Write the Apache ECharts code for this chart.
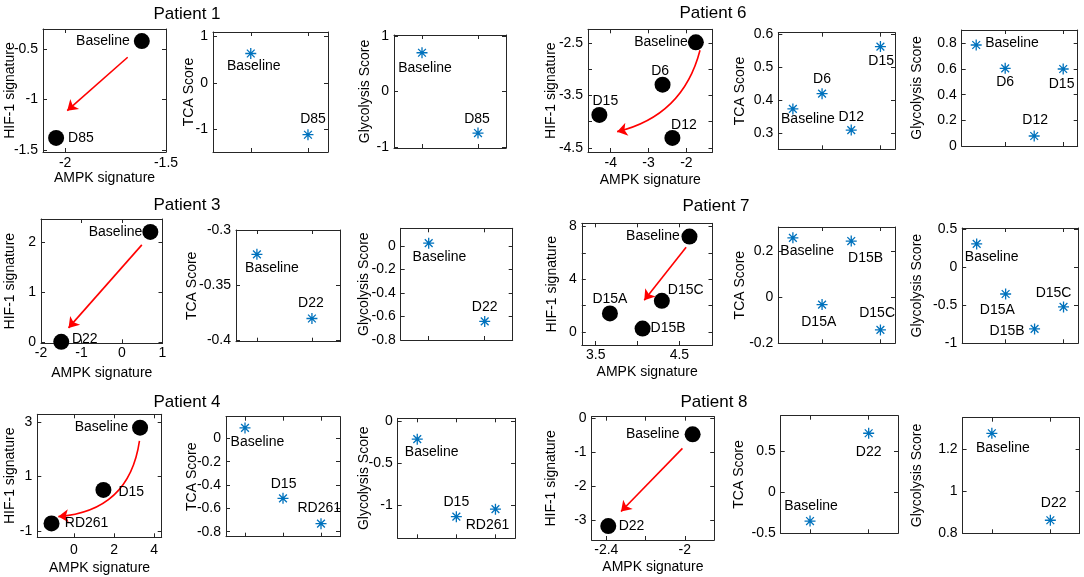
<!DOCTYPE html>
<html><head><meta charset="utf-8">
<script src="https://cdn.jsdelivr.net/npm/echarts@6/dist/echarts.min.js"></script>
<style>html,body{margin:0;padding:0;background:#fff}#c{width:1084px;height:577px}</style>
</head><body><div id="c"></div>
<script>
// ================= DATA =================
// Patient 1
const p1_days = ['Baseline', 'D85'];
const p1_ampk = [-1.62, -2.045];
const p1_hif = [-0.42, -1.38];
const p1_tca = [0.63, -1.11];
const p1_gly = [0.70, -0.75];
const p1_arrow = [[-1.69, -0.58], [-1.99, -1.11]];
const p1_ampk_ticks = [-2, -1.5], p1_ampk_labels = [-2, -1.5];
const p1_hif_ticks = [-1.5, -1, -0.5], p1_hif_labels = [-1.5, -1, -0.5];
const p1_tca_ticks = [-1, 0, 1];
const p1_gly_ticks = [-1, 0, 1];
const p1_idx_ticks = [1, 2];
// Patient 3
const p3_days = ['Baseline', 'D22'];
const p3_ampk = [0.70, -1.50];
const p3_hif = [2.21, 0.0];
const p3_tca = [-0.322, -0.380];
const p3_gly = [0.023, -0.642];
const p3_arrow = [[0.49, 1.95], [-1.32, 0.28]];
const p3_ampk_ticks = [-2, -1, 0, 1], p3_ampk_labels = [-2, -1, 0, 1];
const p3_hif_ticks = [0, 1, 2], p3_hif_labels = [0, 1, 2];
const p3_tca_ticks = [-0.4, -0.35, -0.3];
const p3_gly_ticks = [-0.8, -0.6, -0.4, -0.2, 0];
const p3_idx_ticks = [1, 2];
// Patient 4
const p4_days = ['Baseline', 'D15', 'RD261'];
const p4_ampk = [3.30, 1.47, -1.12];
const p4_hif = [2.80, 0.51, -0.72];
const p4_tca = [0.09, -0.514, -0.731];
const p4_gly = [-0.21, -1.14, -1.05];
const p4_arrow = [[3.27, 2.31], [-0.78, -0.47]];
const p4_ampk_ticks = [0, 2, 4], p4_ampk_labels = [0, 2, 4];
const p4_hif_ticks = [-1, 1, 3], p4_hif_labels = [-1, 1, 3];
const p4_tca_ticks = [-0.8, -0.6, -0.4, -0.2, 0];
const p4_gly_ticks = [-1, -0.5, 0];
const p4_idx_ticks = [1, 2, 3];
// Patient 6
const p6_days = ['Baseline', 'D6', 'D12', 'D15'];
const p6_ampk = [-1.75, -2.63, -2.37, -4.30];
const p6_hif = [-2.48, -3.29, -4.31, -3.87];
const p6_tca = [0.374, 0.42, 0.31, 0.562];
const p6_gly = [0.787, 0.605, 0.078, 0.60];
const p6_arrow = [[-1.64, -2.63], [-3.83, -4.19]];
const p6_ampk_ticks = [-4, -3, -2], p6_ampk_labels = [-4, -3, -2];
const p6_hif_ticks = [-4.5, -4, -3.5, -3, -2.5], p6_hif_labels = [-4.5, -3.5, -2.5];
const p6_tca_ticks = [0.3, 0.4, 0.5, 0.6];
const p6_gly_ticks = [0, 0.2, 0.4, 0.6, 0.8];
const p6_idx_ticks = [2, 4];
// Patient 7
const p7_days = ['Baseline', 'D15A', 'D15B', 'D15C'];
const p7_ampk = [4.62, 3.67, 4.06, 4.29];
const p7_hif = [7.24, 1.40, 0.25, 2.36];
const p7_tca = [0.258, -0.032, 0.244, -0.142];
const p7_gly = [0.31, -0.35, -0.81, -0.52];
const p7_arrow = [[4.58, 6.43], [4.08, 2.41]];
const p7_ampk_ticks = [3.5, 4, 4.5], p7_ampk_labels = [3.5, 4.5];
const p7_hif_ticks = [0, 2, 4, 6, 8], p7_hif_labels = [0, 4, 8];
const p7_tca_ticks = [-0.2, 0, 0.2];
const p7_gly_ticks = [-1, -0.5, 0, 0.5];
const p7_idx_ticks = [2, 4];
// Patient 8
const p8_days = ['Baseline', 'D22'];
const p8_ampk = [-1.96, -2.39];
const p8_hif = [-0.47, -3.18];
const p8_tca = [-0.35, 0.725];
const p8_gly = [1.275, 0.862];
const p8_arrow = [[-2.012, -0.885], [-2.325, -2.75]];
const p8_ampk_ticks = [-2.4, -2.2, -2], p8_ampk_labels = [-2.4, -2];
const p8_hif_ticks = [-3, -2, -1, 0], p8_hif_labels = [-3, -2, -1, 0];
const p8_tca_ticks = [-0.5, 0, 0.5];
const p8_gly_ticks = [0.8, 1, 1.2];
const p8_idx_ticks = [1, 2];

// ================= LAYOUT / STYLE =================
const LAYOUT = {
  p1: { title: [187, 14],
    A: { rect: [43, 29, 123, 123], xr: [-2.11, -1.5], yr: [-1.52, -0.3], gy: 26, gx: 19, xm: 4, curve: 0,
         lab: [[-12, 0, 'right'], [12, 0, 'left']] },
    B: { rect: [213, 32, 115, 120], xr: [0.34, 2.35], yr: [-1.48, 1.09], gy: 17, lab: [[3, 13], [5, -16]] },
    C: { rect: [394, 35, 112, 113], xr: [0.5, 2.5], yr: [-1.02, 1.02], gy: 22, lab: [[3, 15], [-1, -14]] } },
  p3: { title: [187, 205],
    A: { rect: [41, 219, 121.5, 124.3], xr: [-2, 1], yr: [-0.03, 2.47], gy: 24, gx: 22.7, xm: 3, curve: 0,
         lab: [[-8, 0, 'right'], [10.7, -3, 'left']] },
    B: { rect: [236, 230, 104, 111.7], xr: [0.62, 2.51], yr: [-0.401, -0.3], gy: 37, lab: [[15, 14], [-1, -15]] },
    C: { rect: [400.7, 228.3, 112, 111.7], xr: [0.5, 2.5], yr: [-0.8, 0.149], gy: 29.7, lab: [[10.7, 14], [0, -14]] } },
  p4: { title: [187, 402],
    A: { rect: [37.3, 414.3, 124.4, 123], xr: [-1.83, 4.38], yr: [-1.23, 3.29], gy: 20, gx: 23.4, xm: 5.7, curve: 0.4,
         lab: [[-11.7, 0, 'right'], [15, 2, 'left'], [13.3, 0, 'left']] },
    B: { rect: [226, 416.7, 114, 120], xr: [0.5, 3.5], yr: [-0.843, 0.186], gy: 27, lab: [[12.4, 14.6], [0.6, -14], [-1.7, -15.3]] },
    C: { rect: [397.7, 418.3, 117.3, 120], xr: [0.5, 3.5], yr: [-1.4, 0.04], gy: 27, lab: [[14.4, 12.7], [0, -14.4], [-8, 16]] } },
  p6: { title: [713, 13.5],
    A: { rect: [588, 29.3, 124.5, 122.7], xr: [-4.6, -1.31], yr: [-4.58, -2.23], gy: 30, gx: 21, xm: 4, curve: 0.3,
         lab: [[-8, 0, 'right'], [-2.4, -14], [11.5, -12.3], [6, -14]] },
    B: { rect: [778.3, 32.7, 116.7, 116.6], xr: [0.5, 4.5], yr: [0.252, 0.604], gy: 31, lab: [[15, 10.7], [0, -14.7], [0, -13.3], [0.7, 14.7]] },
    C: { rect: [961.7, 30, 116, 116], xr: [0.5, 4.5], yr: [0, 0.904], gy: 38, lab: [[9, -1.7, 'left'], [0, 14], [1, -16], [-1.6, 15]] } },
  p7: { title: [716, 206.7],
    A: { rect: [581.8, 223.3, 130.7, 121.7], xr: [3.334, 4.895], yr: [-1.0, 8.25], gy: 23, gx: 19.7, xm: 3, curve: 0,
         lab: [[-9.7, 0, 'right'], [0, -14], [8, 0, 'left'], [6, -10.7, 'left']] },
    B: { rect: [778.3, 227, 116.7, 116.3], xr: [0.5, 4.5], yr: [-0.2, 0.305], gy: 31, lab: [[14.3, 13.3], [-3.3, 17.7], [14.3, 16.7], [-3.3, -16.7]] },
    C: { rect: [962.2, 228, 115.8, 115.3], xr: [0.5, 4.5], yr: [-1, 0.52], gy: 38, lab: [[15, 13.7], [-8.3, 15.7], [-10, 2.4, 'right'], [-10, -14]] } },
  p8: { title: [714, 402],
    A: { rect: [591.6, 416.7, 122.6, 123.3], xr: [-2.475, -1.85], yr: [-3.59, 0.05], gy: 33, gx: 19.7, xm: 3, curve: 0,
         lab: [[-13, 0, 'right'], [10.4, 0, 'left']] },
    B: { rect: [780.7, 415.7, 117.3, 117.6], xr: [0.5, 2.5], yr: [-0.5, 0.94], gy: 35, lab: [[1, -15], [0, 18.4]] },
    C: { rect: [962.6, 417.7, 117, 115.6], xr: [0.5, 2.5], yr: [0.8, 1.349], gy: 38, lab: [[11, 15], [3.3, -16.7]] } }
};

const PATIENTS = [
  { key: 'p1', name: 'Patient 1', days: p1_days, ampk: p1_ampk, hif: p1_hif, tca: p1_tca, gly: p1_gly, arrow: p1_arrow,
    at: p1_ampk_ticks, al: p1_ampk_labels, ht: p1_hif_ticks, hl: p1_hif_labels, tt: p1_tca_ticks, gt: p1_gly_ticks, it: p1_idx_ticks },
  { key: 'p3', name: 'Patient 3', days: p3_days, ampk: p3_ampk, hif: p3_hif, tca: p3_tca, gly: p3_gly, arrow: p3_arrow,
    at: p3_ampk_ticks, al: p3_ampk_labels, ht: p3_hif_ticks, hl: p3_hif_labels, tt: p3_tca_ticks, gt: p3_gly_ticks, it: p3_idx_ticks },
  { key: 'p4', name: 'Patient 4', days: p4_days, ampk: p4_ampk, hif: p4_hif, tca: p4_tca, gly: p4_gly, arrow: p4_arrow,
    at: p4_ampk_ticks, al: p4_ampk_labels, ht: p4_hif_ticks, hl: p4_hif_labels, tt: p4_tca_ticks, gt: p4_gly_ticks, it: p4_idx_ticks },
  { key: 'p6', name: 'Patient 6', days: p6_days, ampk: p6_ampk, hif: p6_hif, tca: p6_tca, gly: p6_gly, arrow: p6_arrow,
    at: p6_ampk_ticks, al: p6_ampk_labels, ht: p6_hif_ticks, hl: p6_hif_labels, tt: p6_tca_ticks, gt: p6_gly_ticks, it: p6_idx_ticks },
  { key: 'p7', name: 'Patient 7', days: p7_days, ampk: p7_ampk, hif: p7_hif, tca: p7_tca, gly: p7_gly, arrow: p7_arrow,
    at: p7_ampk_ticks, al: p7_ampk_labels, ht: p7_hif_ticks, hl: p7_hif_labels, tt: p7_tca_ticks, gt: p7_gly_ticks, it: p7_idx_ticks },
  { key: 'p8', name: 'Patient 8', days: p8_days, ampk: p8_ampk, hif: p8_hif, tca: p8_tca, gly: p8_gly, arrow: p8_arrow,
    at: p8_ampk_ticks, al: p8_ampk_labels, ht: p8_hif_ticks, hl: p8_hif_labels, tt: p8_tca_ticks, gt: p8_gly_ticks, it: p8_idx_ticks }
];

const FONT = "'Liberation Sans', Arial, Helvetica, sans-serif";
const AX = '#262626';
const BLUE = '#0072BD';
const STAR = 'path://M0,-10L0,10M-10,0L10,0M-7.07,-7.07L7.07,7.07M-7.07,7.07L7.07,-7.07';
const fmt = v => String(Math.round(v * 1000) / 1000);

const grids = [], xAxes = [], yAxes = [], series = [], graphics = [];

function axis(gi, pos, range, ticks, labels, showLab, margin, name, gap) {
  return {
    type: 'value', gridIndex: gi, position: pos, min: range[0], max: range[1],
    axisLine: { show: true, onZero: false, lineStyle: { color: AX, width: 1 } },
    axisTick: { show: true, inside: true, length: 4, customValues: ticks, lineStyle: { color: AX, width: 1 } },
    axisLabel: { show: showLab, customValues: labels || ticks, margin: margin, fontSize: 14, color: '#000',
                 fontFamily: FONT, formatter: fmt, showMinLabel: true, showMaxLabel: true },
    splitLine: { show: false }, minorTick: { show: false },
    name: name || '', nameLocation: 'middle', nameGap: gap || 0, nameMoveOverlap: false,
    nameTextStyle: { fontSize: 14, color: '#000', fontFamily: FONT },
    nameRotate: (pos === 'left' && name) ? 90 : 0,
    silent: true
  };
}

function panel(L, xt, xl, yt, yl, xShow, xName, yName) {
  const gi = grids.length;
  grids.push({ left: L.rect[0], top: L.rect[1], width: L.rect[2], height: L.rect[3], show: false,
               containLabel: false, outerBoundsMode: 'none' });
  const xi = xAxes.length, yi = yAxes.length;
  xAxes.push(axis(gi, 'bottom', L.xr, xt, xl, xShow, L.xm || 4, xName, L.gx));
  xAxes.push(axis(gi, 'top', L.xr, xt, xl, false, 4));
  yAxes.push(axis(gi, 'left', L.yr, yt, yl, true, 5, yName, L.gy));
  yAxes.push(axis(gi, 'right', L.yr, yt, yl, false, 5));
  return { xi, yi };
}

function pointLabel(name, lab) {
  return { show: true, position: 'inside', formatter: name, offset: [lab[0], lab[1]], align: lab[2] || 'center',
           verticalAlign: 'middle', fontSize: 14, color: '#000', opacity: 1, fontFamily: FONT };
}

PATIENTS.forEach(P => {
  const LY = LAYOUT[P.key];
  graphics.push({ type: 'text', x: LY.title[0], y: LY.title[1], silent: true,
    style: { text: P.name, fontSize: 17, fontFamily: FONT, fill: '#000', align: 'center', verticalAlign: 'middle',
             textAlign: 'center', textVerticalAlign: 'middle' } });
  // A: HIF-1 vs AMPK
  let a = panel(LY.A, P.at, P.al, P.ht, P.hl, true, 'AMPK signature', 'HIF-1 signature');
  series.push({
    type: 'lines', coordinateSystem: 'cartesian2d', xAxisIndex: a.xi, yAxisIndex: a.yi, silent: true,
    symbol: ['none', 'arrow'], symbolSize: 10, z: 3,
    lineStyle: { color: '#FF0000', width: 1.6, type: 'solid', curveness: LY.A.curve, opacity: 1 },
    data: [{ coords: [P.arrow[0], P.arrow[1]] }]
  });
  series.push({
    type: 'scatter', xAxisIndex: a.xi, yAxisIndex: a.yi, symbol: 'circle', symbolSize: 16, z: 4,
    itemStyle: { color: '#000', opacity: 1 }, silent: true,
    data: P.days.map((d, i) => ({ value: [P.ampk[i], P.hif[i]], name: d, label: pointLabel(d, LY.A.lab[i]) }))
  });
  // B: TCA
  let b = panel(LY.B, P.it, [], P.tt, P.tt, false, '', 'TCA Score');
  series.push({
    type: 'scatter', xAxisIndex: b.xi, yAxisIndex: b.yi, symbol: STAR, symbolSize: 11, silent: true,
    itemStyle: { color: BLUE, borderColor: BLUE, borderWidth: 1.3, opacity: 1 },
    data: P.days.map((d, i) => ({ value: [i + 1, P.tca[i]], name: d, label: pointLabel(d, LY.B.lab[i]) }))
  });
  // C: Glycolysis
  let c = panel(LY.C, P.it, [], P.gt, P.gt, false, '', 'Glycolysis Score');
  series.push({
    type: 'scatter', xAxisIndex: c.xi, yAxisIndex: c.yi, symbol: STAR, symbolSize: 11, silent: true,
    itemStyle: { color: BLUE, borderColor: BLUE, borderWidth: 1.3, opacity: 1 },
    data: P.days.map((d, i) => ({ value: [i + 1, P.gly[i]], name: d, label: pointLabel(d, LY.C.lab[i]) }))
  });
});

const chart = echarts.init(document.getElementById('c'), null, { renderer: 'canvas' });
chart.setOption({
  animation: false, backgroundColor: '#fff',
  textStyle: { fontFamily: FONT },
  grid: grids, xAxis: xAxes, yAxis: yAxes, series: series, graphic: graphics
});
</script></body></html>
